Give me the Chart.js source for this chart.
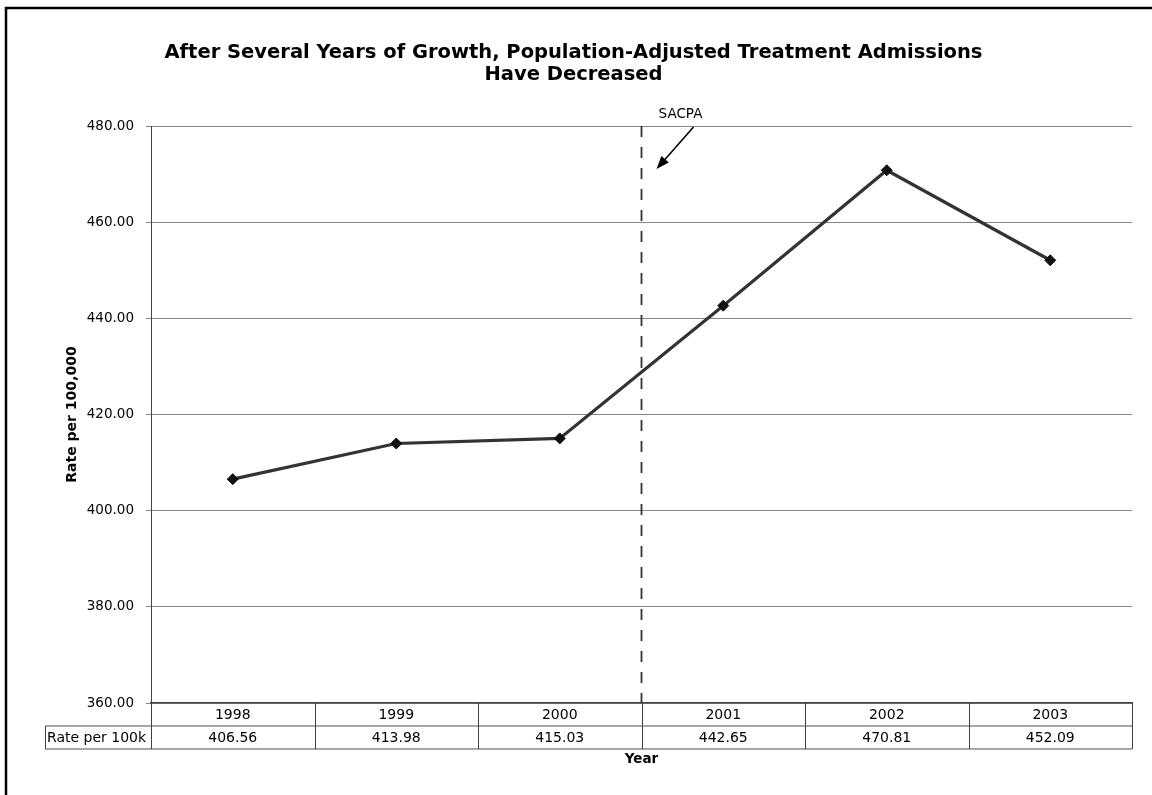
<!DOCTYPE html>
<html>
<head>
<meta charset="utf-8">
<script src="https://cdn.jsdelivr.net/npm/chart.js@4.4.0/dist/chart.umd.min.js"></script>
<style>
  html, body { margin: 0; padding: 0; background: #fff; }
  #wrap { width: 1152px; height: 795px; }
</style>
</head>
<body>
<div id="wrap"><canvas id="chart" width="1152" height="795"></canvas></div>
<script>
"use strict";

const years = ["1998", "1999", "2000", "2001", "2002", "2003"];
const ratePer100k = [406.56, 413.98, 415.03, 442.65, 470.81, 452.09];
const rowLabel = "Rate per 100k";
const yTicks = [360, 380, 400, 420, 440, 460, 480];
const markerAfter = "2000";   // SACPA starts after this year
const markerText = "SACPA";

const FONT = "'DejaVu Sans', Verdana, sans-serif";

// border round the whole figure
const frame = {
  id: "frame",
  beforeDraw(chart) {
    const ctx = chart.ctx;
    ctx.save();
    ctx.fillStyle = "#fff";
    ctx.fillRect(0, 0, chart.width, chart.height);
    ctx.strokeStyle = "#000";
    ctx.lineWidth = 2.5;
    ctx.strokeRect(6, 8, chart.width + 20, chart.height + 20);
    ctx.restore();
  }
};

// dashed divider + arrow note
const sacpa = {
  id: "sacpa",
  beforeDatasetsDraw(chart) {
    const { ctx, chartArea, scales: { x } } = chart;
    const bx = x.getPixelForValue(years.indexOf(markerAfter) + 0.5);
    ctx.save();
    ctx.strokeStyle = "#333";
    ctx.lineWidth = 1.8;
    ctx.setLineDash([11, 10]);
    ctx.beginPath();
    ctx.moveTo(bx, chartArea.top);
    ctx.lineTo(bx, chartArea.bottom);
    ctx.stroke();
    ctx.restore();
  },
  afterDraw(chart) {
    const { ctx, chartArea, scales: { x } } = chart;
    const bx = x.getPixelForValue(years.indexOf(markerAfter) + 0.5);
    const top = chartArea.top;
    ctx.save();
    ctx.fillStyle = "#000";
    ctx.font = "13.5px " + FONT;
    ctx.textAlign = "center";
    ctx.textBaseline = "middle";
    ctx.fillText(markerText, bx + 39, top - 12);

    const x0 = bx + 52, y0 = top + 1, x1 = bx + 15, y1 = top + 43;
    const a = Math.atan2(y1 - y0, x1 - x0);
    const hl = 13, hw = 5;
    ctx.strokeStyle = "#000";
    ctx.lineWidth = 1.6;
    ctx.beginPath();
    ctx.moveTo(x0, y0);
    ctx.lineTo(x1 - Math.cos(a) * hl * 0.8, y1 - Math.sin(a) * hl * 0.8);
    ctx.stroke();
    ctx.beginPath();
    ctx.moveTo(x1, y1);
    ctx.lineTo(x1 - Math.cos(a) * hl - Math.sin(a) * hw, y1 - Math.sin(a) * hl + Math.cos(a) * hw);
    ctx.lineTo(x1 - Math.cos(a) * hl + Math.sin(a) * hw, y1 - Math.sin(a) * hl - Math.cos(a) * hw);
    ctx.closePath();
    ctx.fill();
    ctx.restore();
  }
};

// data table under the x axis
const dataTable = {
  id: "dataTable",
  afterDraw(chart) {
    const { ctx, chartArea, scales: { x } } = chart;
    const rowH = 23;
    const t0 = chartArea.bottom, t1 = t0 + rowH, t2 = t1 + rowH;
    const right = chartArea.right;
    const headLeft = 45;
    ctx.save();

    // horizontal rules
    ctx.strokeStyle = "#8a8a8a";
    ctx.lineWidth = 1.5;
    ctx.beginPath();
    ctx.moveTo(headLeft, t1); ctx.lineTo(right, t1);
    ctx.moveTo(headLeft, t2); ctx.lineTo(right, t2);
    ctx.stroke();

    // vertical rules
    ctx.strokeStyle = "#404040";
    ctx.lineWidth = 1;
    ctx.beginPath();
    for (let i = 0; i <= years.length; i++) {
      const px = Math.round(x.getPixelForValue(i - 0.5)) + 0.5;
      ctx.moveTo(px, t0); ctx.lineTo(px, t2);
    }
    ctx.moveTo(headLeft + 0.5, t1); ctx.lineTo(headLeft + 0.5, t2);
    ctx.stroke();

    ctx.fillStyle = "#000";
    ctx.font = "14px " + FONT;
    ctx.textBaseline = "middle";
    ctx.textAlign = "center";
    years.forEach((yr, i) => {
      const cx = x.getPixelForValue(i);
      ctx.fillText(yr, cx, (t0 + t1) / 2 + 1);
      ctx.fillText(ratePer100k[i].toFixed(2), cx, (t1 + t2) / 2 + 1);
    });
    ctx.textAlign = "left";
    ctx.fillText(rowLabel, headLeft + 2, (t1 + t2) / 2 + 1);
    ctx.restore();
  }
};

new Chart(document.getElementById("chart").getContext("2d"), {
  type: "line",
  data: {
    labels: years,
    datasets: [{
      label: rowLabel,
      data: ratePer100k,
      borderColor: "#333",
      borderWidth: 3.2,
      tension: 0,
      pointStyle: "rectRot",
      pointRadius: 5.5,
      pointBackgroundColor: "#111",
      pointBorderColor: "#111",
      pointBorderWidth: 1
    }]
  },
  options: {
    responsive: false,
    animation: false,
    layout: { padding: { left: 15, right: 20, top: 0, bottom: 20 } },
    plugins: {
      legend: { display: false },
      tooltip: { enabled: false },
      title: {
        display: true,
        text: ["After Several Years of Growth, Population-Adjusted Treatment Admissions",
               "Have Decreased"],
        color: "#000",
        font: { family: FONT, size: 19.5, weight: "bold", lineHeight: 1.13 },
        padding: { top: 42, bottom: 40 }
      }
    },
    scales: {
      x: {
        type: "category",
        offset: true,
        grid: { display: false },
        border: { display: true, color: "#444", width: 1.5 },
        ticks: { display: false },
        title: {
          display: true,
          text: "Year",
          color: "#000",
          font: { family: FONT, size: 13.5, weight: "bold", lineHeight: 1.2 },
          padding: { top: 0, bottom: 7 }
        },
        afterFit(scale) { scale.height = 72; }
      },
      y: {
        min: yTicks[0],
        max: yTicks[yTicks.length - 1],
        afterBuildTicks(scale) { scale.ticks = yTicks.map(v => ({ value: v })); },
        grid: { color: "#858585", lineWidth: 1, tickLength: 5 },
        border: { display: true, color: "#444", width: 1 },
        ticks: {
          padding: 12,
          color: "#000",
          font: { family: FONT, size: 13.5 },
          callback: v => Number(v).toFixed(2)
        },
        title: {
          display: true,
          text: "Rate per 100,000",
          color: "#000",
          font: { family: FONT, size: 14, weight: "bold", lineHeight: 1.2 },
          padding: { top: 49, bottom: 0 }
        },
        afterFit(scale) { scale.width = 136; }
      }
    }
  },
  plugins: [frame, sacpa, dataTable]
});
</script>
</body>
</html>
